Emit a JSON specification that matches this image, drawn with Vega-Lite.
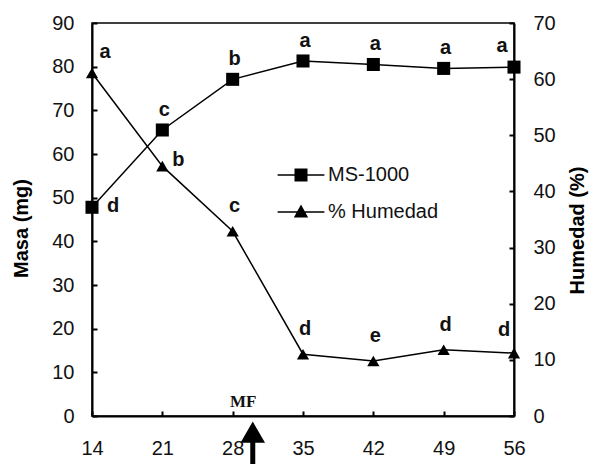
{
  "$schema": "https://vega.github.io/schema/vega-lite/v6.json",
  "width": 422,
  "height": 393,
  "autosize": "none",
  "padding": {"left": 92, "top": 23, "right": 89, "bottom": 48},
  "background": "#ffffff",
  "config": {
    "view": {"stroke": "#000", "strokeWidth": 1.5},
    "font": "Liberation Sans",
    "axis": {
      "grid": false,
      "domainColor": "#000",
      "domainWidth": 2,
      "tickColor": "#000",
      "tickWidth": 2,
      "tickSize": -5,
      "labelFontSize": 20,
      "labelColor": "#111",
      "labelFont": "Liberation Sans",
      "titleFont": "Liberation Sans",
      "titleFontSize": 20,
      "titleFontWeight": "bold",
      "titleColor": "#000"
    }
  },
  "datasets": {
    "series": [
      {"day": 14, "serie": "MS-1000", "valor": 47.8, "letra": "d"},
      {"day": 21, "serie": "MS-1000", "valor": 65.5, "letra": "c"},
      {"day": 28, "serie": "MS-1000", "valor": 77.1, "letra": "b"},
      {"day": 35, "serie": "MS-1000", "valor": 81.3, "letra": "a"},
      {"day": 42, "serie": "MS-1000", "valor": 80.5, "letra": "a"},
      {"day": 49, "serie": "MS-1000", "valor": 79.6, "letra": "a"},
      {"day": 56, "serie": "MS-1000", "valor": 79.9, "letra": "a"},
      {"day": 14, "serie": "% Humedad", "valor": 61.1, "letra": "a"},
      {"day": 21, "serie": "% Humedad", "valor": 44.5, "letra": "b"},
      {"day": 28, "serie": "% Humedad", "valor": 32.9, "letra": "c"},
      {"day": 35, "serie": "% Humedad", "valor": 11.0, "letra": "d"},
      {"day": 42, "serie": "% Humedad", "valor": 9.8, "letra": "e"},
      {"day": 49, "serie": "% Humedad", "valor": 11.8, "letra": "d"},
      {"day": 56, "serie": "% Humedad", "valor": 11.2, "letra": "d"}
    ]
  },
  "encoding": {
    "x": {
      "field": "day",
      "type": "quantitative",
      "scale": {"domain": [14, 56], "nice": false, "zero": false},
      "axis": {
        "values": [14, 21, 28, 35, 42, 49, 56],
        "title": null,
        "labelPadding": 27,
        "labelFlush": false,
        "labelOverlap": false
      }
    }
  },
  "layer": [
    {
      "data": {"name": "series"},
      "transform": [{"filter": "datum.serie == 'MS-1000'"}],
      "encoding": {
        "y": {
          "field": "valor",
          "type": "quantitative",
          "scale": {"domain": [0, 90], "nice": false},
          "axis": {
            "orient": "left",
            "title": "Masa (mg)",
            "values": [0, 10, 20, 30, 40, 50, 60, 70, 80, 90],
            "labelPadding": 23,
            "titleAngle": 270,
            "titleX": -71,
            "titleY": 205,
            "titleAlign": "center",
            "titleBaseline": "middle"
          }
        }
      },
      "layer": [
        {"mark": {"type": "line", "color": "#000", "strokeWidth": 1.5}},
        {
          "mark": {
            "type": "point",
            "shape": "square",
            "filled": true,
            "color": "#000",
            "size": 170,
            "opacity": 1
          }
        },
        {
          "mark": {"type": "point", "filled": true, "color": "#000", "size": 169, "opacity": 0},
          "encoding": {
            "shape": {
              "field": "serie",
              "type": "nominal",
              "scale": {
                "domain": ["MS-1000", "% Humedad"],
                "range": [
                  "M-3.6,-0.12H3.6V0.12H-3.6ZM-1,-1H1V1H-1Z",
                  "M-3.6,-0.12H3.6V0.12H-3.6ZM0,-1.15L1.1,0.85L-1.1,0.85Z"
                ]
              },
              "legend": {
                "orient": "none",
                "legendX": 199,
                "legendY": 142,
                "title": null,
                "padding": 0,
                "labelFontSize": 20,
                "labelFont": "Liberation Sans",
                "labelColor": "#111",
                "labelOffset": 17,
                "rowPadding": 17,
                "symbolSize": 169,
                "symbolOpacity": 1,
                "symbolFillColor": "#000",
                "symbolStrokeColor": "#000",
                "symbolStrokeWidth": 0
              }
            }
          }
        },
        {
          "transform": [{"filter": "datum.day == 14"}],
          "mark": {"type": "text", "dx": 21, "dy": 5, "fontSize": 20, "fontWeight": "bold", "color": "#111", "baseline": "alphabetic", "align": "center"},
          "encoding": {"text": {"field": "letra"}}
        },
        {
          "transform": [{"filter": "datum.day > 14 && datum.day < 56"}],
          "mark": {"type": "text", "dx": 2, "dy": -14, "fontSize": 20, "fontWeight": "bold", "color": "#111", "baseline": "alphabetic", "align": "center"},
          "encoding": {"text": {"field": "letra"}}
        },
        {
          "transform": [{"filter": "datum.day == 56"}],
          "mark": {"type": "text", "dx": -12, "dy": -15, "fontSize": 20, "fontWeight": "bold", "color": "#111", "baseline": "alphabetic", "align": "center"},
          "encoding": {"text": {"field": "letra"}}
        },
        {
          "data": {"values": [{"day": 29.05, "valor": 2.1, "nota": "MF"}]},
          "mark": {"type": "text", "font": "Liberation Serif", "fontSize": 17, "fontWeight": "bold", "color": "#111", "baseline": "alphabetic", "align": "center"},
          "encoding": {"text": {"field": "nota"}}
        },
        {
          "data": {"values": [{"day": 30, "valor": -11, "fin": -5}]},
          "mark": {"type": "rule", "color": "#000", "strokeWidth": 5},
          "encoding": {"y2": {"field": "fin"}}
        },
        {
          "data": {"values": [{"day": 30, "valor": -3.7}]},
          "mark": {"type": "point", "shape": "triangle-up", "filled": true, "color": "#000", "size": 600, "opacity": 1},
          "encoding": {}
        }
      ]
    },
    {
      "data": {"name": "series"},
      "transform": [{"filter": "datum.serie == '% Humedad'"}],
      "encoding": {
        "y": {
          "field": "valor",
          "type": "quantitative",
          "scale": {"domain": [0, 70], "nice": false},
          "axis": {
            "orient": "right",
            "title": "Humedad (%)",
            "values": [0, 10, 20, 30, 40, 50, 60, 70],
            "labelPadding": 24,
            "titleAngle": 270,
            "titleX": 63,
            "titleY": 207,
            "titleAlign": "center",
            "titleBaseline": "middle"
          }
        }
      },
      "layer": [
        {"mark": {"type": "line", "color": "#000", "strokeWidth": 1.5}},
        {
          "mark": {
            "type": "point",
            "shape": "triangle-up",
            "filled": true,
            "color": "#000",
            "size": 150,
            "opacity": 1
          }
        },
        {
          "transform": [{"filter": "datum.day == 14"}],
          "mark": {"type": "text", "dx": 13, "dy": -15, "fontSize": 20, "fontWeight": "bold", "color": "#111", "baseline": "alphabetic", "align": "center"},
          "encoding": {"text": {"field": "letra"}}
        },
        {
          "transform": [{"filter": "datum.day == 21"}],
          "mark": {"type": "text", "dx": 16, "dy": 0, "fontSize": 20, "fontWeight": "bold", "color": "#111", "baseline": "alphabetic", "align": "center"},
          "encoding": {"text": {"field": "letra"}}
        },
        {
          "transform": [{"filter": "datum.day > 21 && datum.day < 56"}],
          "mark": {"type": "text", "dx": 2, "dy": -19, "fontSize": 20, "fontWeight": "bold", "color": "#111", "baseline": "alphabetic", "align": "center"},
          "encoding": {"text": {"field": "letra"}}
        },
        {
          "transform": [{"filter": "datum.day == 56"}],
          "mark": {"type": "text", "dx": -10, "dy": -17, "fontSize": 20, "fontWeight": "bold", "color": "#111", "baseline": "alphabetic", "align": "center"},
          "encoding": {"text": {"field": "letra"}}
        }
      ]
    }
  ],
  "resolve": {"scale": {"y": "independent"}}
}
